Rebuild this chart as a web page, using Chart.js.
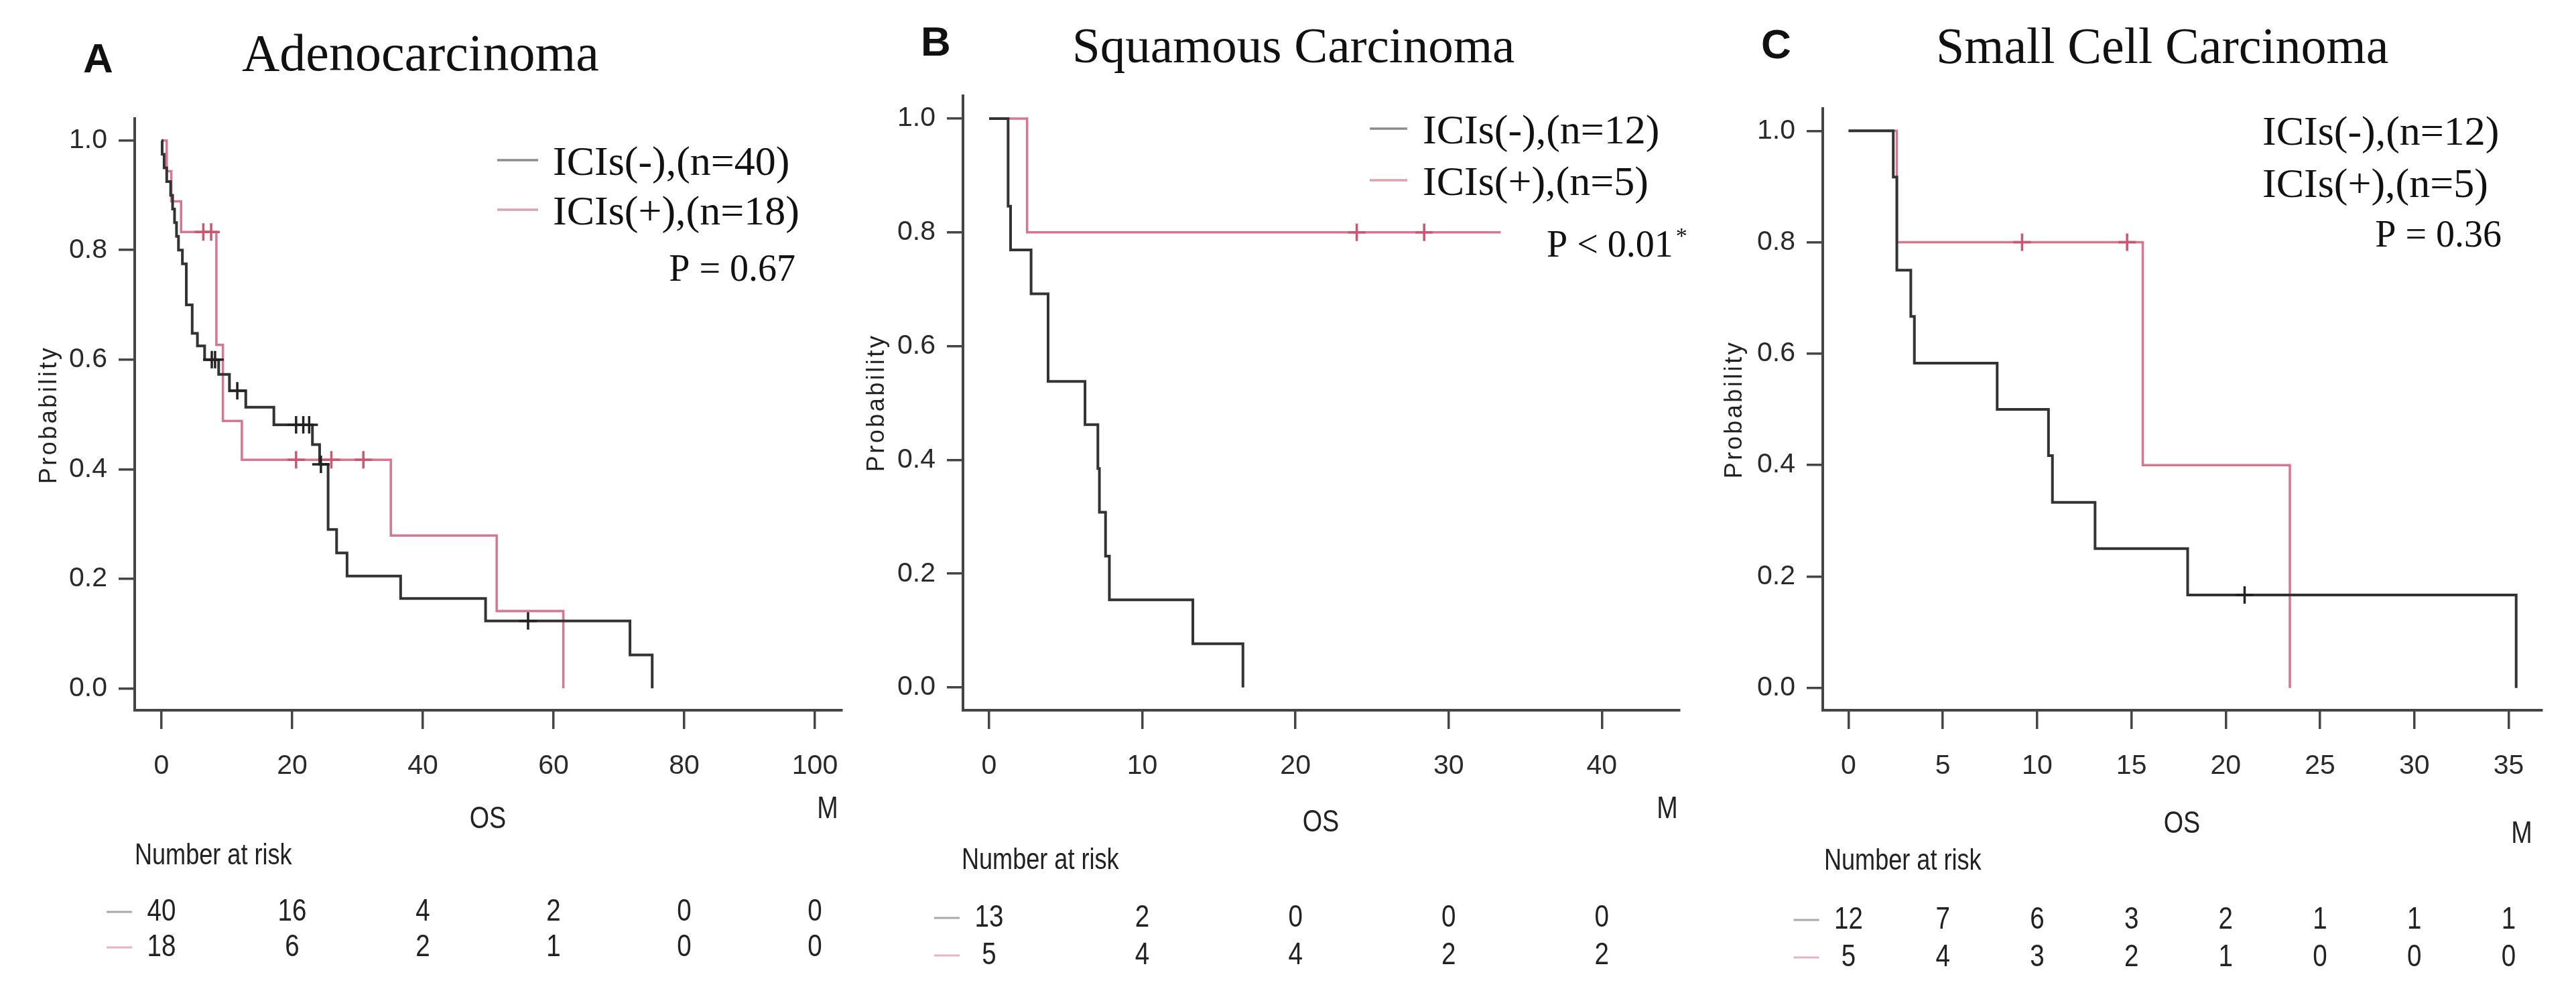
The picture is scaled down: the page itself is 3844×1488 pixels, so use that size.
<!DOCTYPE html>
<html lang="en">
<head>
<meta charset="UTF-8">
<title>OS by histology, ICIs(-) vs ICIs(+)</title>
<script src="https://cdn.jsdelivr.net/npm/chart.js"></script>
<style>
    body {
        margin: 0;
        background: #ffffff;
        width: 3844px;
        height: 1488px;
        overflow: hidden;
        position: relative;
    }
    canvas {
        position: absolute;
        top: 0;
    }
    #chartA { left: 0; }
    #chartB { left: 1290px; }
    #chartC { left: 2530px; }
</style>
</head>
<body>
<canvas id="chartA" width="1290" height="1488"></canvas>
<canvas id="chartB" width="1240" height="1488"></canvas>
<canvas id="chartC" width="1314" height="1488"></canvas>

<script>
// ---- values (months, survival after each drop) ----

// A  Adenocarcinoma
const adenoNegTime = [0, 0.1, 0.4, 0.8, 1.4, 1.7, 2.0, 2.3, 2.6, 3.2, 3.8, 4.7, 5.5, 6.6, 8.75, 10.4, 12.9, 17.2, 23.1, 24.2, 25.5, 26.8, 28.4, 36.6, 49.6, 71.7, 75.1];
const adenoNegSurv = [1, 0.975, 0.95, 0.925, 0.90, 0.875, 0.85, 0.825, 0.80, 0.775, 0.70, 0.648, 0.625, 0.60, 0.573, 0.543, 0.513, 0.481, 0.445, 0.409, 0.29, 0.247, 0.205, 0.164, 0.123, 0.061, 0];
const adenoNegCensor = [7.7, 8.2, 11.6, 20.6, 21.7, 22.6, 24.4, 56.1];
const adenoPosTime = [0, 0.8, 1.5, 3.0, 8.4, 9.4, 12.3, 35.1, 51.3, 61.5];
const adenoPosSurv = [1, 0.944, 0.889, 0.833, 0.627, 0.488, 0.417, 0.279, 0.141, 0];
const adenoPosCensor = [6.4, 7.6, 20.6, 26.0, 30.9];
const adenoTicks = [0, 20, 40, 60, 80, 100];
const adenoRiskNeg = [40, 16, 4, 2, 0, 0];
const adenoRiskPos = [18, 6, 2, 1, 0, 0];

// B  Squamous carcinoma
const squamNegTime = [0, 1.24, 1.4, 2.74, 3.85, 6.26, 7.1, 7.2, 7.6, 7.85, 13.3, 16.57];
const squamNegSurv = [1, 0.846, 0.769, 0.692, 0.538, 0.462, 0.385, 0.308, 0.231, 0.154, 0.077, 0];
const squamNegCensor = [];
const squamPosTime = [0, 2.48, 33.4];
const squamPosSurv = [1, 0.8, 0.8];
const squamPosCensor = [24.0, 28.4];
const squamTicks = [0, 10, 20, 30, 40];
const squamRiskNeg = [13, 2, 0, 0, 0];
const squamRiskPos = [5, 4, 4, 2, 2];

// C  Small cell carcinoma
const smallNegTime = [0, 2.37, 2.56, 3.3, 3.49, 7.88, 10.6, 10.81, 13.07, 17.98, 35.4];
const smallNegSurv = [1, 0.917, 0.75, 0.667, 0.583, 0.5, 0.417, 0.333, 0.25, 0.167, 0];
const smallNegCensor = [21.0];
const smallPosTime = [0, 2.56, 15.6, 23.4];
const smallPosSurv = [1, 0.8, 0.4, 0];
const smallPosCensor = [9.2, 14.77];
const smallTicks = [0, 5, 10, 15, 20, 25, 30, 35];
const smallRiskNeg = [12, 7, 6, 3, 2, 1, 1, 1];
const smallRiskPos = [5, 4, 3, 2, 1, 0, 0, 0];

const probTicks = [0, 0.2, 0.4, 0.6, 0.8, 1.0];

// ---- styling ----
const BLACK = '#333333';
const RED = '#d8768d';
const BLACK_MARK = '#222222';
const RED_MARK = '#cc5571';
const AXIS = '#454545';
const INK = '#111111';
const SAMPLE_BLACK = '#8c8c8c';
const SAMPLE_RED = '#dba3b1';
const SERIF = "'Liberation Serif', 'Times New Roman', serif";
const SANS = "'Liberation Sans', Arial, sans-serif";
const NARROW = 0.82;   // horizontal squeeze for the condensed sans text

// survival value of a step curve at time t
function survAt(times, surv, t) {
    let s = surv[0];
    for (let i = 0; i < times.length; i++) {
        if (times[i] <= t) s = surv[i];
    }
    return s;
}

function stepSet(times, surv, color, width) {
    return {
        data: times.map((t, i) => ({ x: t, y: surv[i] })),
        stepped: true,
        borderColor: color,
        borderWidth: width,
        pointRadius: 0,
        fill: false
    };
}

function censorSet(times, surv, censor, color) {
    return {
        data: censor.map(t => ({ x: t, y: survAt(times, surv, t) })),
        showLine: false,
        pointStyle: 'cross',
        pointRadius: 13,
        pointBorderWidth: 3.5,
        pointBorderColor: color,
        pointBackgroundColor: color
    };
}

function narrowText(ctx, text, x, y, align) {
    ctx.save();
    ctx.translate(x, y);
    ctx.scale(NARROW, 1);
    ctx.textAlign = align;
    ctx.fillText(text, 0, 0);
    ctx.restore();
}

// text around each plot: panel letter, title, legend, axis words, risk table
function decorPlugin(p) {
    return {
        id: 'decor',
        afterDraw(chart) {
            const ctx = chart.ctx;
            const xs = chart.scales.x;
            const o = p.canvasLeft;
            ctx.save();
            ctx.fillStyle = INK;
            ctx.textBaseline = 'alphabetic';

            ctx.textAlign = 'left';
            ctx.font = `bold 62px ${SANS}`;
            ctx.fillText(p.letter, p.letterPos[0] - o, p.letterPos[1]);

            ctx.font = `${p.titleSize}px ${SERIF}`;
            ctx.fillText(p.title, p.titlePos[0] - o, p.titlePos[1]);

            // legend
            ctx.font = `62px ${SERIF}`;
            p.legend.forEach((txt, i) => {
                const base = p.legendBase[i];
                if (p.sampleX) {
                    ctx.strokeStyle = i === 0 ? SAMPLE_BLACK : SAMPLE_RED;
                    ctx.lineWidth = 3.5;
                    ctx.beginPath();
                    ctx.moveTo(p.sampleX[0] - o, base - 22);
                    ctx.lineTo(p.sampleX[1] - o, base - 22);
                    ctx.stroke();
                }
                ctx.fillText(txt, p.legendLeft - o, base);
            });

            // p value
            ctx.font = `56px ${SERIF}`;
            if (p.pAlign === 'right') {
                ctx.textAlign = 'right';
                ctx.fillText(p.pText, p.pPos[0] - o, p.pPos[1]);
            } else {
                ctx.textAlign = 'left';
                ctx.fillText(p.pText, p.pPos[0] - o, p.pPos[1]);
                if (p.pStar) {
                    const w = ctx.measureText(p.pText).width;
                    ctx.font = `34px ${SERIF}`;
                    ctx.fillText('*', p.pPos[0] - o + w + 4, p.pPos[1] - 20);
                }
            }

            // y axis word
            ctx.save();
            ctx.translate(p.probPos[0] - o, p.probPos[1]);
            ctx.rotate(-Math.PI / 2);
            ctx.font = `36px ${SANS}`;
            ctx.letterSpacing = '3.5px';
            ctx.textAlign = 'center';
            ctx.textBaseline = 'middle';
            ctx.fillStyle = '#222';
            ctx.fillText('Probability', 0, 0);
            ctx.restore();

            ctx.fillStyle = '#222';
            ctx.textBaseline = 'middle';
            ctx.font = `46px ${SANS}`;
            narrowText(ctx, 'OS', p.osPos[0] - o, p.osPos[1], 'center');
            narrowText(ctx, 'M', p.mPos[0] - o, p.mPos[1], 'center');
            ctx.font = `44px ${SANS}`;
            narrowText(ctx, 'Number at risk', p.riskLabel[0] - o, p.riskLabel[1], 'left');

            // risk table, one number under each tick
            ctx.font = `47px ${SANS}`;
            const x0 = xs.getPixelForValue(p.ticks[0]);
            [p.riskNeg, p.riskPos].forEach((row, r) => {
                const y = p.riskRows[r];
                ctx.strokeStyle = r === 0 ? '#a8a8a8' : '#e6b3c0';
                ctx.lineWidth = 3;
                ctx.beginPath();
                ctx.moveTo(x0 - 82, y);
                ctx.lineTo(x0 - 44, y);
                ctx.stroke();
                row.forEach((n, i) => {
                    narrowText(ctx, String(n), xs.getPixelForValue(p.ticks[i]), y, 'center');
                });
            });
            ctx.restore();
        }
    };
}

function buildPanel(id, p) {
    const canvas = document.getElementById(id);
    const o = p.canvasLeft;
    const yW = 100;
    const xH = 110;
    const tickFont = { family: SANS, size: 41 };

    new Chart(canvas, {
        type: 'line',
        data: {
            datasets: [
                censorSet(p.negT, p.negS, p.negC, BLACK_MARK),
                censorSet(p.posT, p.posS, p.posC, RED_MARK),
                stepSet(p.negT, p.negS, BLACK, 4),
                stepSet(p.posT, p.posS, RED, 3.5)
            ]
        },
        options: {
            responsive: false,
            animation: false,
            events: [],
            layout: {
                padding: {
                    left: p.area.left - o - yW,
                    top: p.area.top,
                    right: canvas.width - (p.area.right - o),
                    bottom: canvas.height - p.area.bottom - xH
                }
            },
            plugins: {
                legend: { display: false },
                tooltip: { enabled: false },
                title: { display: false }
            },
            scales: {
                x: {
                    type: 'linear',
                    min: p.xMin,
                    max: p.xMax,
                    afterFit: s => { s.height = xH; },
                    afterBuildTicks: s => { s.ticks = p.ticks.map(v => ({ value: v })); },
                    grid: { drawOnChartArea: false, drawTicks: true, tickLength: 28, color: AXIS, lineWidth: 3.5 },
                    border: { display: true, color: AXIS, width: 4 },
                    ticks: { font: tickFont, color: '#2a2a2a', padding: 31, maxRotation: 0, autoSkip: false }
                },
                y: {
                    type: 'linear',
                    min: -0.04,
                    max: 1.04,
                    afterFit: s => { s.width = yW; },
                    afterBuildTicks: s => { s.ticks = probTicks.map(v => ({ value: v })); },
                    grid: { drawOnChartArea: false, drawTicks: true, tickLength: 24, color: AXIS, lineWidth: 3.5 },
                    border: { display: true, color: AXIS, width: 4 },
                    ticks: { font: tickFont, color: '#2a2a2a', padding: 17, callback: v => v.toFixed(1) }
                }
            }
        },
        plugins: [decorPlugin(p)]
    });
}

buildPanel('chartA', {
    canvasLeft: 0,
    area: { left: 201, right: 1256, top: 177, bottom: 1060 },
    xMin: -4.1, xMax: 104.1,
    negT: adenoNegTime, negS: adenoNegSurv, negC: adenoNegCensor,
    posT: adenoPosTime, posS: adenoPosSurv, posC: adenoPosCensor,
    ticks: adenoTicks, riskNeg: adenoRiskNeg, riskPos: adenoRiskPos,
    letter: 'A', letterPos: [124, 108],
    title: 'Adenocarcinoma', titleSize: 78, titlePos: [361, 105],
    legend: ['ICIs(-),(n=40)', 'ICIs(+),(n=18)'], legendLeft: 825, legendBase: [261, 335], sampleX: [742, 803],
    pText: 'P = 0.67', pAlign: 'right', pPos: [1187, 419],
    probPos: [74, 619],
    osPos: [728, 1223], mPos: [1235, 1208],
    riskLabel: [201, 1278], riskRows: [1361, 1414]
});

buildPanel('chartB', {
    canvasLeft: 1290,
    area: { left: 1437, right: 2506, top: 143, bottom: 1060 },
    xMin: -1.706, xMax: 45.06,
    negT: squamNegTime, negS: squamNegSurv, negC: squamNegCensor,
    posT: squamPosTime, posS: squamPosSurv, posC: squamPosCensor,
    ticks: squamTicks, riskNeg: squamRiskNeg, riskPos: squamRiskPos,
    letter: 'B', letterPos: [1374, 83],
    title: 'Squamous Carcinoma', titleSize: 75, titlePos: [1600, 93],
    legend: ['ICIs(-),(n=12)', 'ICIs(+),(n=5)'], legendLeft: 2123, legendBase: [214, 291], sampleX: [2044, 2100],
    pText: 'P < 0.01', pAlign: 'left', pStar: true, pPos: [2308, 383],
    probPos: [1309, 601],
    osPos: [1971, 1228], mPos: [2488, 1208],
    riskLabel: [1435, 1285], riskRows: [1370, 1426]
});

buildPanel('chartC', {
    canvasLeft: 2530,
    area: { left: 2720, right: 3793, top: 162, bottom: 1060 },
    xMin: -1.368, xMax: 36.76,
    negT: smallNegTime, negS: smallNegSurv, negC: smallNegCensor,
    posT: smallPosTime, posS: smallPosSurv, posC: smallPosCensor,
    ticks: smallTicks, riskNeg: smallRiskNeg, riskPos: smallRiskPos,
    letter: 'C', letterPos: [2628, 87],
    title: 'Small Cell Carcinoma', titleSize: 76, titlePos: [2889, 94],
    legend: ['ICIs(-),(n=12)', 'ICIs(+),(n=5)'], legendLeft: 3376, legendBase: [216, 294], sampleX: null,
    pText: 'P = 0.36', pAlign: 'right', pPos: [3733, 368],
    probPos: [2589, 611],
    osPos: [3256, 1230], mPos: [3763, 1245],
    riskLabel: [2722, 1286], riskRows: [1373, 1429]
});
</script>
</body>
</html>
